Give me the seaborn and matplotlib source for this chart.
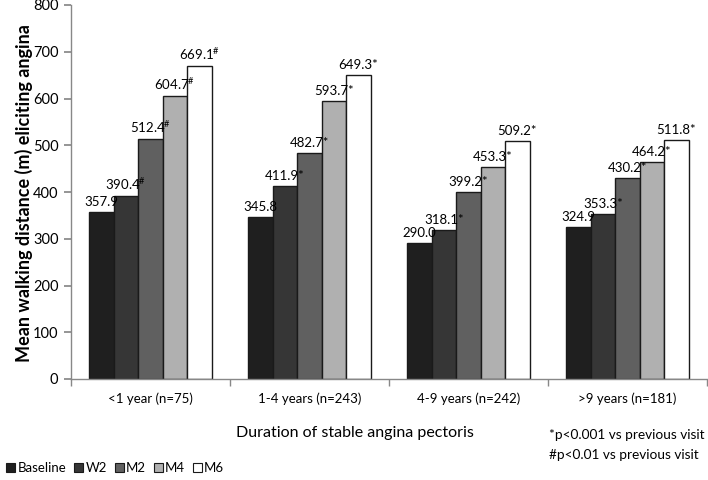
import matplotlib
matplotlib.use("Agg")
import matplotlib.pyplot as plt
import seaborn as sns
import pandas as pd
import numpy as np
from matplotlib.patches import Patch

groups = ["<1 year (n=75)", "1-4 years (n=243)", "4-9 years (n=242)", ">9 years (n=181)"]
series = ["Baseline", "W2", "M2", "M4", "M6"]
baseline = [357.9, 345.8, 290.0, 324.9]
w2 = [390.4, 411.9, 318.1, 353.3]
m2 = [512.4, 482.7, 399.2, 430.2]
m4 = [604.7, 593.7, 453.3, 464.2]
m6 = [669.1, 649.3, 509.2, 511.8]
marks_baseline = ["", "", "", ""]
marks_w2 = ["#", "*", "*", "*"]
marks_m2 = ["#", "*", "*", "*"]
marks_m4 = ["#", "*", "*", "*"]
marks_m6 = ["#", "*", "*", "*"]
colors = ["#1f1f1f", "#363636", "#606060", "#b0b0b0", "#ffffff"]

values = [baseline, w2, m2, m4, m6]
marks = [marks_baseline, marks_w2, marks_m2, marks_m4, marks_m6]
rows = []
for s, vals in zip(series, values):
    for g, v in zip(groups, vals):
        rows.append({"group": g, "series": s, "value": v})
df = pd.DataFrame(rows)

sns.set_theme(style="white")
plt.rcParams["font.family"] = ["Lato", "DejaVu Sans"]
plt.rcParams["mathtext.fontset"] = "custom"
plt.rcParams["mathtext.rm"] = "Lato"
plt.rcParams["mathtext.it"] = "Lato"
plt.rcParams["mathtext.bf"] = "Lato:bold"
plt.rcParams["text.color"] = "black"
plt.rcParams["xtick.color"] = "black"
plt.rcParams["ytick.color"] = "black"

fig = plt.figure(figsize=(7.08, 4.8), dpi=100)
ax = fig.add_axes([71/708, 1-379/480, 636/708, 374/480])
sns.barplot(data=df, x="group", y="value", hue="series", order=groups, hue_order=series,
            palette=colors, width=0.77, gap=0, edgecolor="#1a1a1a", linewidth=1.0,
            legend=False, ax=ax, saturation=1)

for cont, vals, mk in zip(ax.containers, values, marks):
    labels = []
    for v, m in zip(vals, mk):
        if m == "#":
            labels.append(f"{v:.1f}$^{{\\#}}$")
        elif m == "*":
            labels.append(f"{v:.1f}*")
        else:
            labels.append(f"{v:.1f}")
    ax.bar_label(cont, labels=labels, padding=3, fontsize=9.5, color="black")

ax.set_ylim(0, 800)
ax.set_xlim(-0.5, 3.5)
ax.set_yticks(np.arange(0, 801, 100))
ax.set_xticks(range(4))
ax.set_xticklabels(groups, fontsize=9.5)
ax.set_xticks(np.arange(-0.5, 3.6, 1), minor=True)
ax.tick_params(axis="x", which="major", length=0, pad=10)
ax.tick_params(axis="x", which="minor", length=5, direction="out", color="#888888", bottom=True)
ax.tick_params(axis="y", length=5, direction="out", color="#888888", left=True, labelsize=10.5, pad=4)
for sp in ["top", "right"]:
    ax.spines[sp].set_visible(False)
for sp in ["left", "bottom"]:
    ax.spines[sp].set_color("#888888")
    ax.spines[sp].set_linewidth(1.0)
ax.set_xlabel("")
ax.set_ylabel("")
fig.text(24/708, 1-193/480, "Mean walking distance (m) eliciting angina", rotation=90,
         ha="center", va="center", fontsize=13, fontweight="bold")

fig.text(355/708, 1-433/480, "Duration of stable angina pectoris", ha="center", va="center", fontsize=11.5)
fig.text(549/708, 1-435/480, "*p<0.001 vs previous visit", ha="left", va="center", fontsize=9.8)
fig.text(549/708, 1-455/480, "#p<0.01 vs previous visit", ha="left", va="center", fontsize=9.8)

handles = [Patch(facecolor=c, edgecolor="#1a1a1a", linewidth=0.8) for c in colors]
fig.legend(handles, series, loc="lower left", bbox_to_anchor=(-0.008, -0.012), ncol=5, frameon=False,
           handlelength=0.7, handleheight=0.7, handletextpad=0.15, columnspacing=0.6, fontsize=9.5)

fig.savefig("out.png", dpi=100)
